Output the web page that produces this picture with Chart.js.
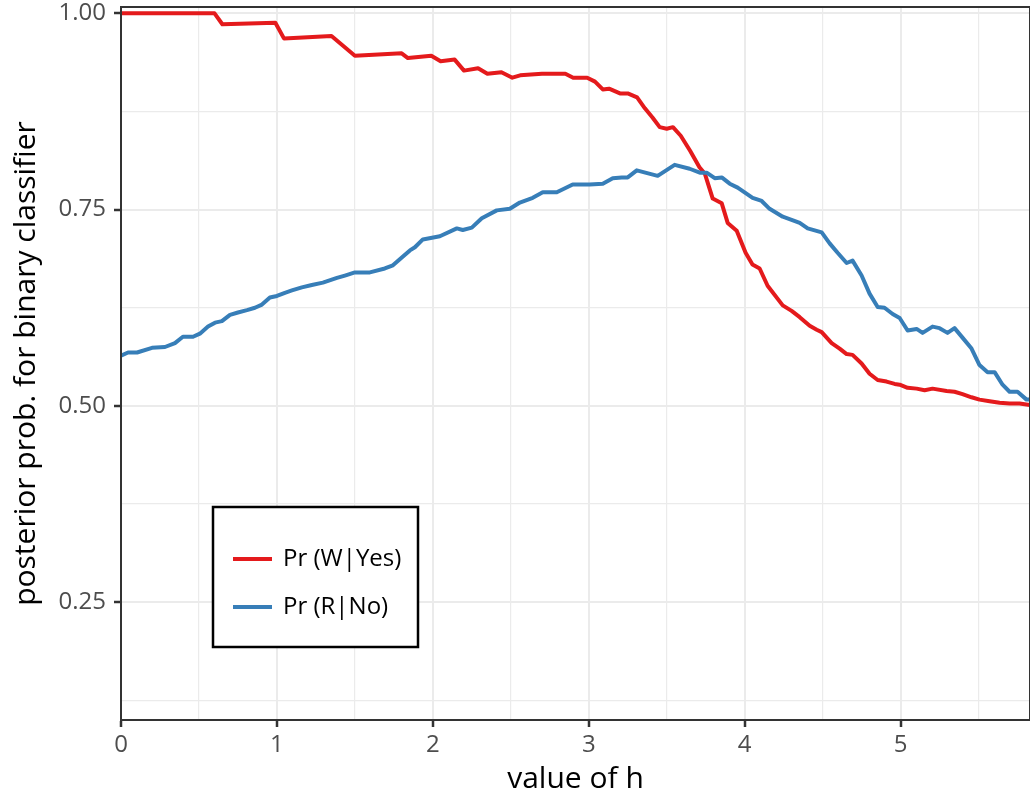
<!DOCTYPE html>
<html>
<head>
<meta charset="utf-8">
<script src="https://cdn.jsdelivr.net/npm/chart.js@4"></script>
<style>
  html, body { margin: 0; padding: 0; background: #fff; }
  canvas { display: block; }
</style>
</head>
<body>
<canvas id="chart" width="1030" height="799"></canvas>
<script>
// values
const seriesNames = ['Pr (W|Yes)', 'Pr (R|No)'];
const seriesColors = ['#e41a1c', '#377eb8'];

const redH = [0,0.6,0.65,0.99,1.045,1.35,1.5,1.8,1.84,1.89,1.99,2.05,2.14,2.2,2.29,2.35,2.44,2.51,2.56,2.7,
  2.85,2.9,2.99,3.04,3.09,3.13,3.2,3.25,3.31,3.36,3.41,3.455,3.5,3.54,3.59,3.65,3.71,3.744,3.795,3.853,
  3.891,3.949,4.006,4.05,4.096,4.147,4.244,4.301,4.353,4.417,4.462,4.494,4.558,4.609,4.654,4.692,4.75,4.801,4.853,4.91,
  4.962,4.994,5.045,5.103,5.154,5.205,5.295,5.346,5.397,5.455,5.506,5.571,5.635,5.699,5.763,5.83];
const redP = [1.0,1.0,0.986,0.988,0.968,0.971,0.946,0.949,0.943,0.944,0.946,0.939,0.941,0.927,0.930,0.923,0.925,0.918,0.921,0.923,
  0.923,0.918,0.918,0.913,0.903,0.904,0.898,0.898,0.893,0.879,0.867,0.855,0.853,0.855,0.844,0.825,0.804,0.796,0.764,0.758,
  0.733,0.723,0.695,0.680,0.675,0.653,0.628,0.621,0.613,0.602,0.597,0.594,0.580,0.573,0.566,0.565,0.554,0.541,0.533,0.531,
  0.528,0.527,0.523,0.522,0.520,0.522,0.519,0.518,0.515,0.511,0.508,0.506,0.504,0.503,0.503,0.501];

const blueH = [0,0.045,0.103,0.199,0.282,0.346,0.397,0.462,0.506,0.558,0.603,0.647,0.699,0.75,0.808,0.859,0.904,0.955,1.0,1.051,
  1.096,1.16,1.224,1.295,1.385,1.436,1.5,1.596,1.692,1.744,1.801,1.853,1.885,1.936,2.045,2.154,2.192,2.25,2.314,2.41,
  2.494,2.558,2.641,2.705,2.795,2.897,3.006,3.09,3.154,3.212,3.25,3.308,3.442,3.551,3.647,3.712,3.756,3.808,3.853,3.904,
  3.955,4.051,4.109,4.16,4.244,4.301,4.353,4.404,4.494,4.545,4.596,4.654,4.692,4.75,4.801,4.853,4.897,4.949,4.994,5.045,
  5.103,5.141,5.205,5.25,5.301,5.346,5.397,5.455,5.506,5.558,5.603,5.654,5.699,5.75,5.808,5.83];
const blueP = [0.564,0.568,0.568,0.574,0.575,0.580,0.588,0.588,0.592,0.601,0.606,0.608,0.616,0.619,0.622,0.625,0.629,0.638,0.640,0.644,
  0.647,0.651,0.654,0.657,0.663,0.666,0.670,0.670,0.675,0.679,0.689,0.698,0.702,0.712,0.716,0.726,0.724,0.727,0.739,0.749,
  0.751,0.759,0.765,0.772,0.772,0.782,0.782,0.783,0.790,0.791,0.791,0.800,0.793,0.807,0.802,0.797,0.797,0.790,0.791,0.783,
  0.778,0.765,0.761,0.751,0.741,0.737,0.733,0.726,0.721,0.707,0.695,0.682,0.685,0.666,0.643,0.626,0.625,0.617,0.612,0.596,
  0.598,0.593,0.601,0.599,0.593,0.599,0.587,0.573,0.552,0.543,0.543,0.527,0.518,0.518,0.508,0.508];

const xTicks = [0,0.5,1,1.5,2,2.5,3,3.5,4,4.5,5,5.5];
const yTicks = [0.125,0.25,0.375,0.5,0.625,0.75,0.875,1.0];
const xRange = [0, 5.83];
const yRange = [0.1, 1.008];

const isWhole = v => Math.abs(v - Math.round(v)) < 1e-6;
const isQuarter = v => Math.abs(v * 4 - Math.round(v * 4)) < 1e-6;

Chart.defaults.font.family = "'Open Sans', sans-serif";

// ggplot-like panel border + legend box drawn in the panel
const panelBits = {
  id: 'panelBits',
  afterDatasetsDraw(chart) {
    const { ctx, chartArea: a } = chart;
    ctx.save();
    ctx.strokeStyle = '#333';
    ctx.lineWidth = 2;
    ctx.strokeRect(a.left, a.top, a.right - a.left, a.bottom - a.top);
    ctx.restore();
  },
  afterDraw(chart) {
    const { ctx } = chart;
    ctx.save();
    ctx.fillStyle = '#fff';
    ctx.fillRect(213, 507, 205, 140);
    ctx.strokeStyle = '#000';
    ctx.lineWidth = 2.5;
    ctx.strokeRect(213, 507, 205, 140);
    ctx.font = "24px 'Open Sans', sans-serif";
    ctx.textBaseline = 'middle';
    ctx.fillStyle = '#000';
    seriesNames.forEach((name, i) => {
      const y = 559 + i * 48;
      ctx.strokeStyle = seriesColors[i];
      ctx.lineWidth = 4;
      ctx.beginPath();
      ctx.moveTo(233, y);
      ctx.lineTo(272, y);
      ctx.stroke();
      ctx.fillText(name, 283, y);
    });
    ctx.restore();
  }
};

const gridOpts = (major) => ({
  color: '#ebebeb',
  lineWidth: c => (c.tick && major(c.tick.value)) ? 2 : 1.2,
  tickColor: c => (c.tick && major(c.tick.value)) ? '#333' : 'rgba(0,0,0,0)',
  tickWidth: 2.5,
  tickLength: 7,
  drawTicks: true
});

new Chart(document.getElementById('chart'), {
  type: 'line',
  data: {
    datasets: [
      {
        label: seriesNames[0],
        data: redH.map((h, i) => ({ x: h, y: redP[i] })),
        borderColor: seriesColors[0],
        borderWidth: 4,
        pointRadius: 0,
        tension: 0,
        order: 1
      },
      {
        label: seriesNames[1],
        data: blueH.map((h, i) => ({ x: h, y: blueP[i] })),
        borderColor: seriesColors[1],
        borderWidth: 4,
        pointRadius: 0,
        tension: 0,
        order: 0
      }
    ]
  },
  options: {
    responsive: false,
    animation: false,
    borderJoinStyle: 'round',
    layout: { padding: { top: 7, right: 0, bottom: 0, left: 0 } },
    plugins: { legend: { display: false }, tooltip: { enabled: false } },
    scales: {
      x: {
        type: 'linear',
        min: xRange[0],
        max: xRange[1],
        afterBuildTicks: s => { s.ticks = xTicks.map(v => ({ value: v })); },
        afterFit: s => { s.height = 79; s.paddingLeft = 0; s.paddingRight = 0; },
        grid: gridOpts(isWhole),
        border: { color: '#333', width: 2 },
        ticks: {
          autoSkip: false,
          maxRotation: 0,
          padding: 4,
          color: '#4d4d4d',
          font: { size: 24 },
          callback: v => isWhole(v) ? String(v) : ''
        },
        title: {
          display: true,
          text: 'value of h',
          color: '#000',
          font: { size: 30 },
          padding: { top: 0, bottom: 2 }
        }
      },
      y: {
        type: 'linear',
        min: yRange[0],
        max: yRange[1],
        afterBuildTicks: s => { s.ticks = yTicks.map(v => ({ value: v })); },
        afterFit: s => { s.width = 121; s.paddingTop = 0; s.paddingBottom = 0; },
        grid: gridOpts(isQuarter),
        border: { color: '#333', width: 2 },
        ticks: {
          autoSkip: false,
          padding: 8,
          color: '#4d4d4d',
          font: { size: 24 },
          callback: v => isQuarter(v) ? v.toFixed(2) : ''
        },
        title: {
          display: true,
          text: 'posterior prob. for binary classifier',
          color: '#000',
          font: { size: 30 },
          padding: { top: 8, bottom: 0 }
        }
      }
    }
  },
  plugins: [panelBits]
});
</script>
</body>
</html>
